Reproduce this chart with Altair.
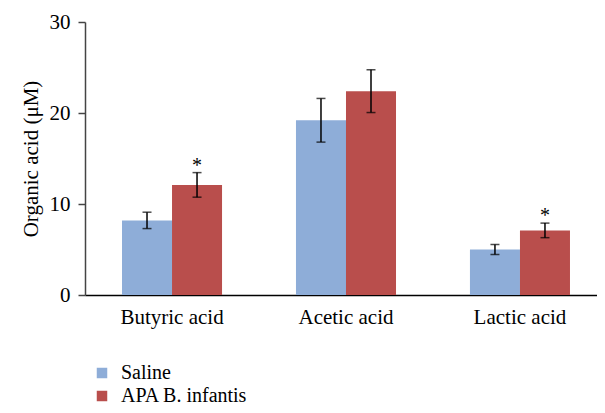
import altair as alt
import pandas as pd

categories = ["Butyric acid", "Acetic acid", "Lactic acid"]
groups = ["Saline", "APA B. infantis"]
saline_mean = [8.2, 19.2, 5.0]
saline_err = [0.9, 2.4, 0.55]
apa_mean = [12.1, 22.4, 7.1]
apa_err = [1.35, 2.35, 0.8]
apa_marker = ["*", "", "*"]
colors = ["#8EADD8", "#B94E4C"]

rows = []
for i, c in enumerate(categories):
    rows.append({"acid": c, "group": groups[0], "mean": saline_mean[i],
                 "lo": saline_mean[i] - saline_err[i], "hi": saline_mean[i] + saline_err[i], "sig": ""})
    rows.append({"acid": c, "group": groups[1], "mean": apa_mean[i],
                 "lo": apa_mean[i] - apa_err[i], "hi": apa_mean[i] + apa_err[i], "sig": apa_marker[i]})
df = pd.DataFrame(rows)

FONT = "Liberation Serif"

x_scale = alt.Scale(paddingInner=0.425, paddingOuter=0.184, align=0.578)
x_enc = alt.X("acid:N", sort=categories, title=None, scale=x_scale,
              axis=alt.Axis(labelAngle=0, ticks=False, labelPadding=11, labelFontSize=21,
                            labelFont=FONT, labelColor="black", domainColor="black", domainWidth=1.5))
xo = alt.XOffset("group:N", sort=groups, scale=alt.Scale(paddingInner=0, paddingOuter=0))
y_scale = alt.Scale(domain=[0, 30], nice=False)

bars = alt.Chart(df).mark_bar().encode(
    x=x_enc,
    xOffset=xo,
    y=alt.Y("mean:Q", scale=y_scale, title="Organic acid (μM)",
            axis=alt.Axis(values=[0, 10, 20, 30], grid=False, tickSize=7, labelPadding=8,
                          labelFontSize=21, labelFont=FONT, labelColor="black",
                          titleFont=FONT, titleFontSize=21, titleFontWeight="normal",
                          titleColor="black", titlePadding=8,
                          domainColor="#444444", domainWidth=1.5, tickColor="#444444", tickWidth=1.5)),
    color=alt.Color("group:N", sort=groups, scale=alt.Scale(domain=groups, range=colors),
                    legend=alt.Legend(title=None, orient="none", legendX=7, legendY=341,
                                      symbolType="square", symbolSize=110, symbolStrokeWidth=0,
                                      labelFont=FONT, labelFontSize=20, labelColor="black",
                                      rowPadding=3, labelOffset=9, padding=0)),
)

rule = alt.Chart(df).mark_rule(color="black", strokeWidth=1.5).encode(
    x=alt.X("acid:N", sort=categories), xOffset=xo,
    y=alt.Y("lo:Q", scale=y_scale), y2="hi:Q")

cap_lo = alt.Chart(df).mark_tick(color="black", thickness=1.5, size=9, orient="horizontal").encode(
    x=alt.X("acid:N", sort=categories), xOffset=xo, y=alt.Y("lo:Q", scale=y_scale))
cap_hi = alt.Chart(df).mark_tick(color="black", thickness=1.5, size=9, orient="horizontal").encode(
    x=alt.X("acid:N", sort=categories), xOffset=xo, y=alt.Y("hi:Q", scale=y_scale))

stars = alt.Chart(df).mark_text(font=FONT, fontSize=20, color="black", baseline="alphabetic", dy=-1).encode(
    x=alt.X("acid:N", sort=categories), xOffset=xo, y=alt.Y("hi:Q", scale=y_scale), text="sig:N")

chart = alt.layer(bars, rule, cap_lo, cap_hi, stars).properties(
    width=512, height=273,
    autosize=alt.AutoSizeParams(type="none"),
    padding={"left": 77, "top": 14, "right": 0, "bottom": 110},
).configure_view(stroke=None)

chart.save("out.html", embed_options={"renderer": "svg", "actions": False})
